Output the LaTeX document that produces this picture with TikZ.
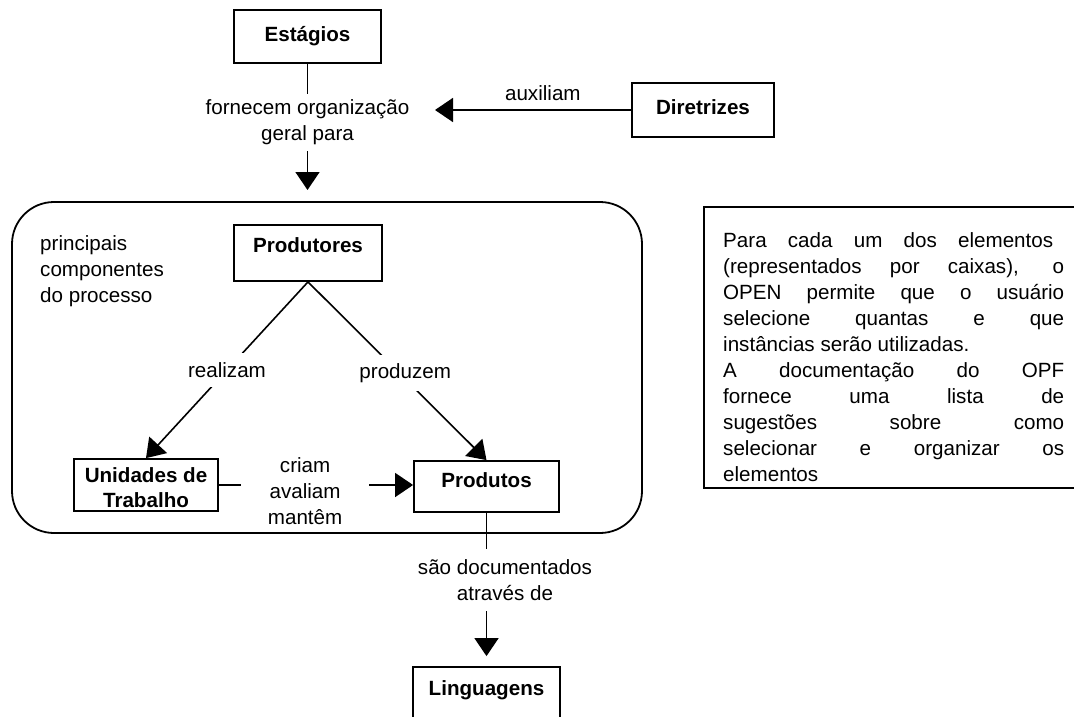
\documentclass[tikz,border=0pt]{standalone}
\usepackage{fontspec}
\setmainfont{Liberation Sans}
\usetikzlibrary{arrows.meta}
% one justified line of the note text
\newcommand{\jline}[2][341pt]{\makebox[#1][s]{#2}}
\begin{document}
\begin{tikzpicture}[x=1pt,y=-1pt,
  every node/.style={font=\fontsize{20.6}{26}\selectfont},
  box/.style={draw, line width=1.8pt, font=\fontsize{20.6}{25}\selectfont\bfseries,
              align=center, inner sep=0pt},
  grpbox/.style={draw, line width=1.8pt, rounded corners=42pt, inner sep=0pt},
  notebox/.style={draw, line width=1.8pt, inner sep=0pt},
  lbl/.style={align=center, fill=white, inner xsep=2pt},
  con/.style={line width=1.6pt},
  arr/.style={con, -{Triangle[length=18pt,width=24pt]}},
]
\useasboundingbox (0,0) rectangle (1074,717);
\clip (0,0) rectangle (1074,717);

% process group
\node[grpbox, minimum width=630pt, minimum height=331pt] (grp) at (327,367.5) {};
\node[align=left, inner sep=0pt, anchor=north west] (grplbl) at (40,235.4)
  {principais\\componentes\\do processo};

% element boxes
\node[box, minimum width=147pt, minimum height=53pt, text height=15pt, text depth=4pt]
  (est) at (307.5,36.5) {Estágios};
\node[box, minimum width=142pt, minimum height=54pt, text height=15pt, text depth=6pt]
  (dir) at (703,110) {Diretrizes};
\node[box, minimum width=148pt, minimum height=56pt, text height=15pt, text depth=17pt]
  (prodr) at (308,253) {Produtores};
\node[box, minimum width=144pt, minimum height=52pt, text height=45.5pt, text depth=0pt]
  (unid) at (146,485) {Unidades de\\Trabalho};
\node[box, minimum width=145pt, minimum height=51pt, text height=15pt, text depth=14pt]
  (prods) at (486.5,486.5) {Produtos};
\node[box, minimum width=147pt, minimum height=56pt, text height=15pt, text depth=15pt]
  (ling) at (486.5,695) {Linguagens};

% relations
\coordinate (grpin) at (307.5,190);
\coordinate (auxtip) at (435,110);
\draw[arr] (est.south) -- node[lbl, pos=0.463, inner ysep=6pt] (l1)
  {fornecem organização\\geral para} (grpin);
\draw[arr] (dir.west) -- node[pos=0.45, anchor=south, inner sep=0pt, yshift=8pt] (l2)
  {auxiliam} (auxtip);
\draw[arr] (prodr.south) -- node[lbl, midway, inner ysep=9pt] (l3) {realizam} (unid.north);
\draw[arr] (prodr.south) -- node[lbl, midway, xshift=8pt, yshift=-2pt, inner ysep=8pt] (l4)
  {produzem} (prods.north);
\draw[arr] (unid.east) -- node[lbl, pos=0.444, yshift=-5.7pt, inner xsep=27pt, inner ysep=8pt] (l5)
  {criam\\avaliam\\mantêm} (unid.east -| prods.west);
\draw[arr, shorten >=10pt] (prods.south) -- node[lbl, pos=0.439, xshift=18.5pt, inner ysep=10.5pt] (l6)
  {são documentados\\através de} (ling.north);

% note on the right
\node[notebox, anchor=north west, minimum width=400pt, minimum height=281pt] (note) at (703,206) {};
\node[align=left, inner sep=0pt, anchor=north west, font=\fontsize{20.6}{26}\selectfont]
  (notetxt) at (723,232) {%
  \jline[330pt]{Para cada um dos elementos}\\
  \jline{(representados por caixas), o}\\
  \jline{OPEN permite que o usuário}\\
  \jline{selecione quantas e que}\\
  instâncias serão utilizadas.\\
  \jline{A documentação do OPF}\\
  \jline{fornece uma lista de}\\
  \jline{sugestões sobre como}\\
  \jline{selecionar e organizar os}\\
  elementos};
\end{tikzpicture}
\end{document}
